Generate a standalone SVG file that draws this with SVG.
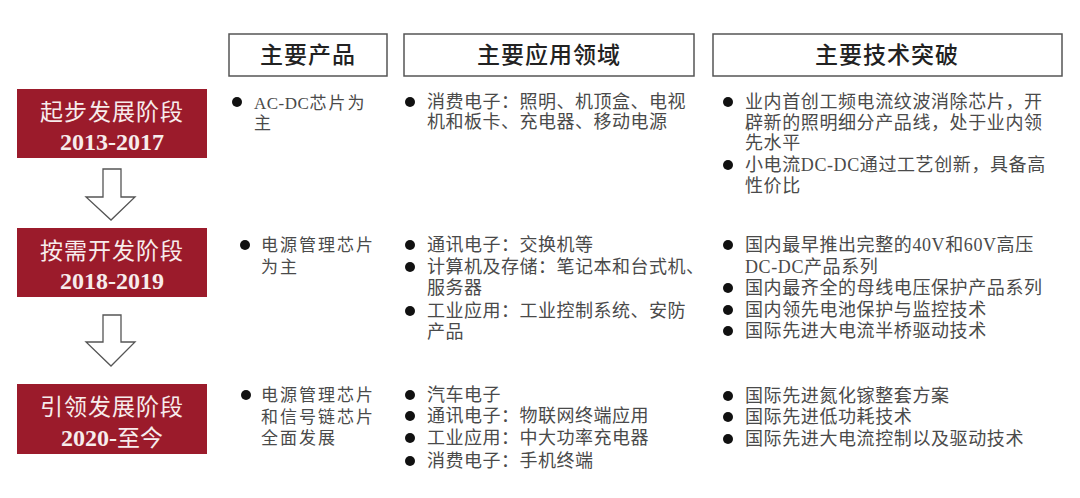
<svg xmlns="http://www.w3.org/2000/svg" width="1080" height="498" viewBox="0 0 1080 498">
<style>
.hdr{fill:#fff;stroke:#555;stroke-width:1.5}
.hdrt{font-family:"Liberation Serif","Noto Sans CJK SC",serif;font-size:23px;fill:#222;text-anchor:middle;letter-spacing:1px;font-weight:500}
.stage{fill:#9b1b2b}
.st1{font-family:"Liberation Serif","Noto Sans CJK SC",serif;font-size:23px;fill:#f7ecec;text-anchor:middle;letter-spacing:1px}
.st2{font-family:"Liberation Serif","Noto Sans CJK SC",serif;font-size:24px;font-weight:bold;fill:#f7ecec;text-anchor:middle}
.c1{font-family:"Liberation Serif","Noto Sans CJK SC",serif;font-size:17px;fill:#4a4a4a;letter-spacing:2px}
.c2{font-family:"Liberation Serif","Noto Sans CJK SC",serif;font-size:18px;fill:#4a4a4a;letter-spacing:0.5px}
.c3{font-family:"Liberation Serif","Noto Sans CJK SC",serif;font-size:18px;fill:#4a4a4a;letter-spacing:0.6px}
.dot{fill:#111}
.arr{fill:#fff;stroke:#555;stroke-width:1.3}
</style>

<g id="header-products"><rect class="hdr" x="229" y="34" width="158" height="42"/><text class="hdrt" x="308" y="63">主要产品</text></g>
<g id="header-apps"><rect class="hdr" x="404" y="34" width="290" height="42"/><text class="hdrt" x="549" y="63">主要应用领域</text></g>
<g id="header-tech"><rect class="hdr" x="713" y="34" width="349" height="42"/><text class="hdrt" x="887" y="63">主要技术突破</text></g>

<g id="stage1"><rect class="stage" x="17" y="89" width="190" height="69"/><text class="st1" x="112" y="120">起步发展阶段</text><text class="st2" x="112" y="150">2013-2017</text></g>
<g id="stage2"><rect class="stage" x="17" y="228" width="190" height="69"/><text class="st1" x="112" y="259">按需开发阶段</text><text class="st2" x="112" y="289">2018-2019</text></g>
<g id="stage3"><rect class="stage" x="17" y="384" width="190" height="70"/><text class="st1" x="112" y="415">引领发展阶段</text><text class="st2" x="112" y="446">2020-<tspan font-weight="normal" font-size="23">至今</tspan></text></g>

<g id="connectors">
<polygon class="arr" points="103,169 121,169 121,197 135,197 111,220 86,197 103,197"/>
<polygon class="arr" points="103,315 121,315 121,342 135,342 111,366 86,342 103,342"/>
</g>

<g id="row1-products"><circle class="dot" cx="237" cy="102" r="5"/><text class="c1" x="254" y="109"><tspan letter-spacing="0.5">AC-DC</tspan>芯片为</text><text class="c1" x="254" y="129">主</text></g>
<g id="row1-apps"><circle class="dot" cx="410" cy="102" r="5"/><text class="c2" x="427" y="108">消费电子：照明、机顶盒、电视</text><text class="c2" x="427" y="128">机和板卡、充电器、移动电源</text></g>
<g id="row1-tech">
<circle class="dot" cx="728" cy="102" r="5"/><text class="c3" x="745" y="108">业内首创工频电流纹波消除芯片，开</text><text class="c3" x="745" y="129">辟新的照明细分产品线，处于业内领</text><text class="c3" x="745" y="149">先水平</text>
<circle class="dot" cx="728" cy="165" r="5"/><text class="c3" x="745" y="171">小电流DC-DC通过工艺创新，具备高</text><text class="c3" x="745" y="192">性价比</text>
</g>

<g id="row2-products"><circle class="dot" cx="245" cy="245" r="5"/><text class="c1" x="261" y="251">电源管理芯片</text><text class="c1" x="261" y="273">为主</text></g>
<g id="row2-apps">
<circle class="dot" cx="410" cy="245" r="5"/><text class="c2" x="427" y="251">通讯电子：交换机等</text>
<circle class="dot" cx="410" cy="267" r="5"/><text class="c2" x="427" y="273">计算机及存储：笔记本和台式机、</text><text class="c2" x="427" y="294">服务器</text>
<circle class="dot" cx="410" cy="311" r="5"/><text class="c2" x="427" y="317">工业应用：工业控制系统、安防</text><text class="c2" x="427" y="338">产品</text>
</g>
<g id="row2-tech">
<circle class="dot" cx="728" cy="245" r="5"/><text class="c3" x="745" y="251">国内最早推出完整的40V和60V高压</text><text class="c3" x="745" y="273">DC-DC产品系列</text>
<circle class="dot" cx="728" cy="288" r="5"/><text class="c3" x="745" y="294">国内最齐全的母线电压保护产品系列</text>
<circle class="dot" cx="728" cy="310" r="5"/><text class="c3" x="745" y="316">国内领先电池保护与监控技术</text>
<circle class="dot" cx="728" cy="331" r="5"/><text class="c3" x="745" y="337">国际先进大电流半桥驱动技术</text>
</g>

<g id="row3-products"><circle class="dot" cx="246" cy="395" r="5"/><text class="c1" x="261" y="401">电源管理芯片</text><text class="c1" x="261" y="423">和信号链芯片</text><text class="c1" x="261" y="444">全面发展</text></g>
<g id="row3-apps">
<circle class="dot" cx="410" cy="395" r="5"/><text class="c2" x="427" y="401">汽车电子</text>
<circle class="dot" cx="410" cy="416" r="5"/><text class="c2" x="427" y="422">通讯电子：物联网终端应用</text>
<circle class="dot" cx="410" cy="438" r="5"/><text class="c2" x="427" y="444">工业应用：中大功率充电器</text>
<circle class="dot" cx="410" cy="461" r="5"/><text class="c2" x="427" y="467">消费电子：手机终端</text>
</g>
<g id="row3-tech">
<circle class="dot" cx="728" cy="396" r="5"/><text class="c3" x="745" y="402">国际先进氮化镓整套方案</text>
<circle class="dot" cx="728" cy="417" r="5"/><text class="c3" x="745" y="423">国际先进低功耗技术</text>
<circle class="dot" cx="728" cy="439" r="5"/><text class="c3" x="745" y="445">国际先进大电流控制以及驱动技术</text>
</g>
</svg>
